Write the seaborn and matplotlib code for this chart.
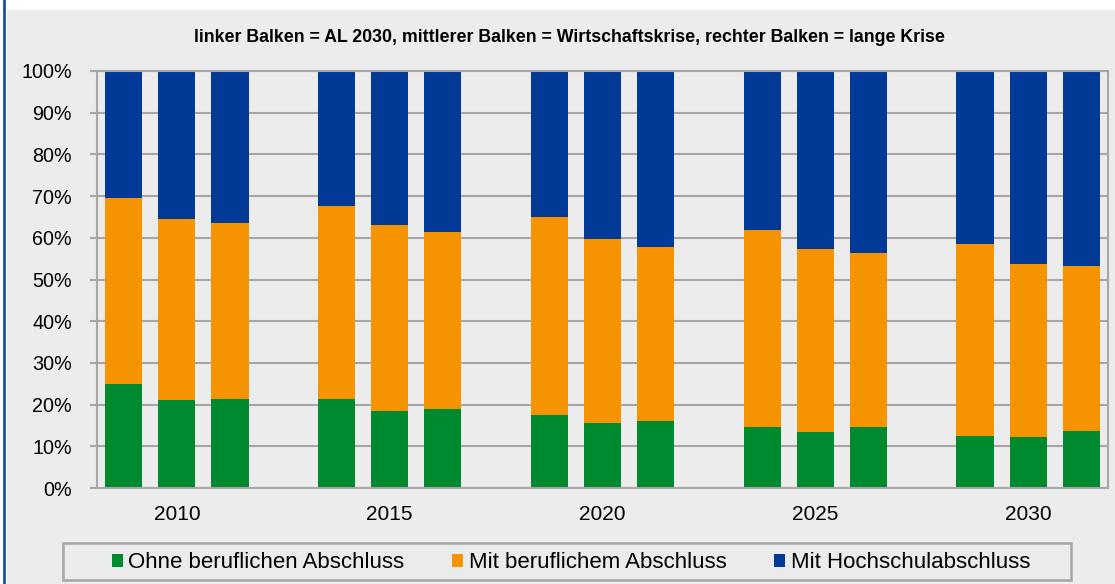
import matplotlib.pyplot as plt
import numpy as np
import pandas as pd
import seaborn as sns
from matplotlib.patches import Patch, Rectangle
from matplotlib.lines import Line2D

# data (shares in %, year-major order: AL 2030, Wirtschaftskrise, lange Krise)
years = ["2010", "2015", "2020", "2025", "2030"]
scenarios = ["AL 2030", "Wirtschaftskrise", "lange Krise"]
ohne_abschluss = [25.0, 21.0, 21.3, 21.3, 18.5, 19.0, 17.5, 15.6, 16.1,
                  14.7, 13.4, 14.7, 12.5, 12.2, 13.7]
mit_beruf = [44.5, 43.5, 42.2, 46.3, 44.6, 42.4, 47.5, 44.1, 41.7,
             47.2, 43.9, 41.7, 46.0, 41.5, 39.5]
mit_hochschule = [30.5, 35.5, 36.5, 32.4, 36.9, 38.6, 35.0, 40.3, 42.2,
                  38.1, 42.7, 43.6, 41.5, 46.3, 46.8]
series_names = ["Ohne beruflichen Abschluss", "Mit beruflichem Abschluss",
                "Mit Hochschulabschluss"]
title = ("linker Balken = AL 2030, mittlerer Balken = Wirtschaftskrise, "
         "rechter Balken = lange Krise")

green, orange, blue = "#008a30", "#f59300", "#003a96"
bg = "#ececec"
gridc = "#a6a6a6"

rows = []
for i, y in enumerate(years):
    for j, s in enumerate(scenarios):
        k = i * 3 + j
        rows.append({"year": y, "scenario": s, "pos": i * 4 + j,
                     "ohne": ohne_abschluss[k], "beruf": mit_beruf[k],
                     "hoch": mit_hochschule[k]})
df = pd.DataFrame(rows)
df["lvl1"] = df["ohne"]
df["lvl2"] = df["ohne"] + df["beruf"]
df["lvl3"] = df["lvl2"] + df["hoch"]

plt.rcParams["font.family"] = ["Liberation Sans", "DejaVu Sans"]

fig = plt.figure(figsize=(11.15, 5.84), dpi=100, facecolor="white")
W, H = 1115, 584
fig.patches.append(Rectangle((7 / W, 0), 1, (H - 10) / H, transform=fig.transFigure,
                             facecolor=bg, edgecolor="none", zorder=-5))
fig.add_artist(Line2D([4 / W, 4 / W], [0, 1], transform=fig.transFigure,
                      color="#1f4f9f", lw=2))

ax = fig.add_axes([97 / W, 1 - 488 / H, (1108 - 97) / W, (488 - 71) / H])
ax.set_facecolor(bg)

for col, c in [("lvl3", blue), ("lvl2", orange), ("lvl1", green)]:
    sns.barplot(data=df, x="pos", y=col, native_scale=True, width=0.7,
                color=c, saturation=1, errorbar=None, linewidth=0, ax=ax)

ax.set_xlim(-0.5, 18.5)
ax.set_ylim(0, 100)
ax.set_yticks(np.arange(0, 101, 10))
ax.set_yticklabels([f"{v}%" for v in range(0, 101, 10)], fontsize=14.2)
ax.set_xticks([i * 4 + 1 for i in range(len(years))])
ax.set_xticklabels(years, fontsize=15)
ax.tick_params(axis="x", length=0, pad=12)
ax.tick_params(axis="y", length=5, width=1.5, color=gridc, pad=13)
ax.set_xlabel("")
ax.set_ylabel("")
ax.yaxis.grid(True, color=gridc, lw=1.5)
ax.set_axisbelow(True)
for sp in ax.spines.values():
    sp.set_color(gridc)
    sp.set_linewidth(1.5)

fig.text(569 / W, 1 - 38 / H, title, ha="center", va="center",
         fontsize=12.8, fontweight="bold")

# legend box
fig.patches.append(Rectangle((63 / W, 1 - 580 / H), (1071 - 63) / W, (580 - 543) / H,
                             transform=fig.transFigure, facecolor="#ebebeb",
                             edgecolor=gridc, lw=1.8))
handles = [Patch(facecolor=c, edgecolor="none") for c in (green, orange, blue)]
fig.legend(handles, series_names, loc="center", bbox_to_anchor=(571 / W, 1 - 563 / H),
           ncol=3, frameon=False, fontsize=16, handlelength=0.5, handleheight=0.5,
           handletextpad=0.25, columnspacing=2.15)

fig.savefig("out.png", dpi=100, facecolor="white")
